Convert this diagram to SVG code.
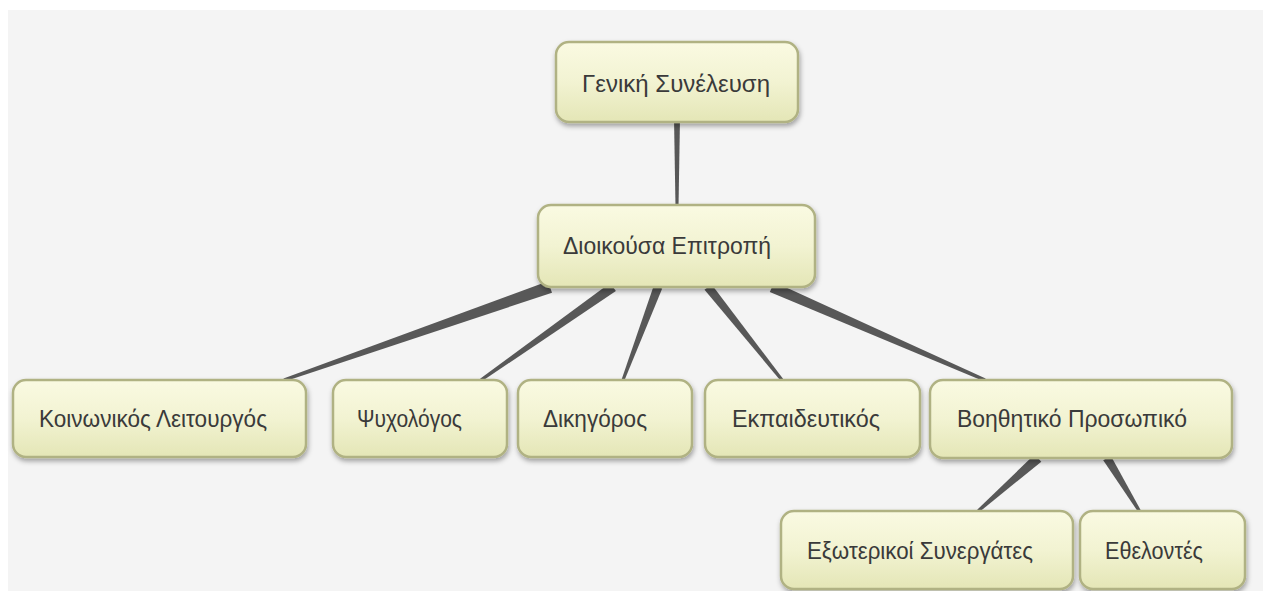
<svg xmlns="http://www.w3.org/2000/svg" width="1263" height="591" viewBox="0 0 1263 591">
  <defs>
    <linearGradient id="boxFill" x1="0" y1="0" x2="0" y2="1">
      <stop offset="0" stop-color="#fafae2"/>
      <stop offset="0.5" stop-color="#f2f3d2"/>
      <stop offset="1" stop-color="#e4e6b6"/>
    </linearGradient>
    <filter id="shadow" x="-10%" y="-20%" width="125%" height="150%">
      <feDropShadow dx="1" dy="3" stdDeviation="2.5" flood-color="#000" flood-opacity="0.35"/>
    </filter>
  </defs>
  <style>
    .box { fill: url(#boxFill); stroke: #b0b283; stroke-width: 2.5; filter: url(#shadow); }
    .lbl { font-family: "Liberation Sans", Arial, sans-serif; font-size: 23px; fill: #3a3a3a; dominant-baseline: central; }
    .conn { fill: #585858; }
  </style>
  <rect x="0" y="0" width="1263" height="591" fill="#ffffff"/>
  <rect x="8" y="10" width="1255" height="581" fill="#f4f4f4"/>

  <g id="connectors">
    <polygon class="conn" points="674,118 680,118 678.5,207 675.5,207"/>
    <polygon class="conn" points="552,292.7 548,281.3 283.5,378.6 284.5,381.4"/>
    <polygon class="conn" points="615.9,291.1 610.1,282.9 480.1,378.8 481.9,381.2"/>
    <polygon class="conn" points="662.2,288.6 653.8,285.4 621.6,379.5 624.4,380.5"/>
    <polygon class="conn" points="704.5,289.8 711.5,284.2 783.2,379.1 780.8,380.9"/>
    <polygon class="conn" points="769.8,292 774.2,282 985.6,378.6 984.4,381.4"/>
    <polygon class="conn" points="1041.3,461.7 1034.7,454.3 976,510.9 978,513.1"/>
    <polygon class="conn" points="1103.2,460.3 1110.8,455.7 1141.3,511.2 1138.7,512.8"/>
  </g>

  <g id="node-geniki">
    <rect class="box" x="556" y="42" width="242" height="80" rx="13"/>
    <text class="lbl" x="582" y="84" textLength="188" lengthAdjust="spacingAndGlyphs">Γενική Συνέλευση</text>
  </g>
  <g id="node-dioikousa">
    <rect class="box" x="538" y="205" width="277" height="82" rx="13"/>
    <text class="lbl" x="563" y="246" textLength="208" lengthAdjust="spacingAndGlyphs">Διοικούσα Επιτροπή</text>
  </g>
  <g id="node-koinonikos">
    <rect class="box" x="13" y="380" width="293" height="77" rx="13"/>
    <text class="lbl" x="39" y="419" textLength="228" lengthAdjust="spacingAndGlyphs">Κοινωνικός Λειτουργός</text>
  </g>
  <g id="node-psychologos">
    <rect class="box" x="333" y="380" width="174" height="77" rx="13"/>
    <text class="lbl" x="357" y="419" textLength="105" lengthAdjust="spacingAndGlyphs">Ψυχολόγος</text>
  </g>
  <g id="node-dikigoros">
    <rect class="box" x="518" y="380" width="174" height="77" rx="13"/>
    <text class="lbl" x="543" y="419" textLength="104" lengthAdjust="spacingAndGlyphs">Δικηγόρος</text>
  </g>
  <g id="node-ekpaideutikos">
    <rect class="box" x="705" y="380" width="215" height="77" rx="13"/>
    <text class="lbl" x="732" y="419" textLength="148" lengthAdjust="spacingAndGlyphs">Εκπαιδευτικός</text>
  </g>
  <g id="node-voithitiko">
    <rect class="box" x="930" y="380" width="302" height="78" rx="13"/>
    <text class="lbl" x="957" y="419" textLength="230" lengthAdjust="spacingAndGlyphs">Βοηθητικό Προσωπικό</text>
  </g>
  <g id="node-exoterikoi">
    <rect class="box" x="781" y="511" width="292" height="78" rx="13"/>
    <text class="lbl" x="807" y="551" textLength="226" lengthAdjust="spacingAndGlyphs">Εξωτερικοί Συνεργάτες</text>
  </g>
  <g id="node-ethelontes">
    <rect class="box" x="1080" y="511" width="165" height="78" rx="13"/>
    <text class="lbl" x="1105" y="551" textLength="98" lengthAdjust="spacingAndGlyphs">Εθελοντές</text>
  </g>
</svg>
